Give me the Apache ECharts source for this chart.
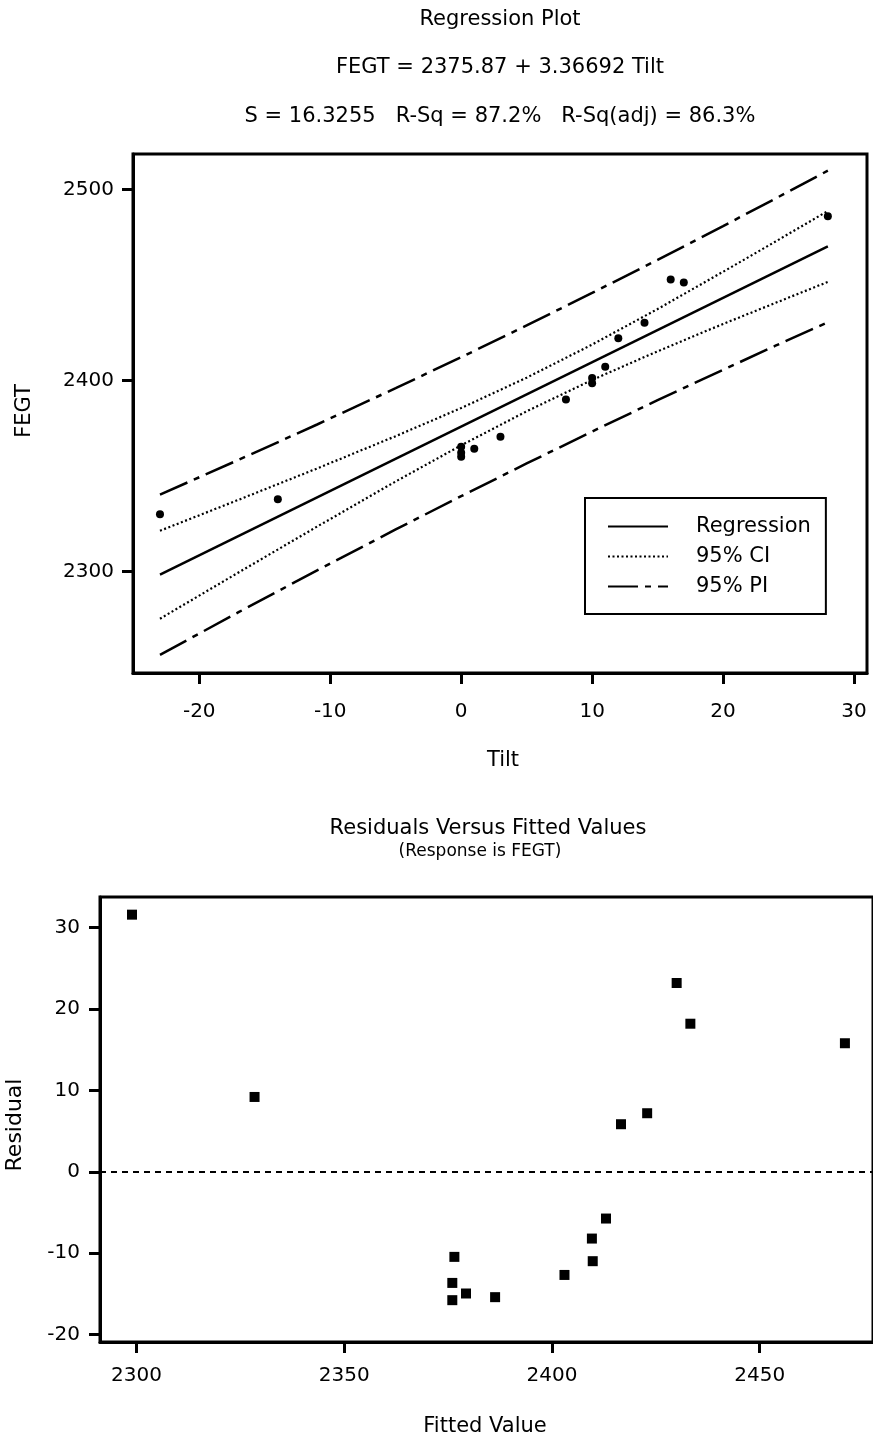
<!DOCTYPE html>
<html>
<head>
<meta charset="utf-8">
<title>Regression Plot</title>
<script src="https://cdn.jsdelivr.net/npm/echarts@6/dist/echarts.min.js"></script>
<style>
  html, body { margin: 0; padding: 0; background: #fff; }
  #chart { width: 873px; height: 1442px; }
</style>
</head>
<body>
<div id="chart"></div>
<script>
// Observations: furnace exit gas temperature against burner tilt
const TILT = [-23, -14, 0, 0, 0, 1, 3, 8, 10, 10, 11, 12, 14, 16, 17, 28];
const FEGT = [2330.0, 2337.9, 2365.4, 2362.2, 2360.1, 2364.3, 2370.6, 2390.1,
              2401.3, 2398.6, 2407.2, 2422.1, 2430.2, 2452.9, 2451.3, 2485.9];

// Fitted line as printed in the header
const INTERCEPT = 2375.87;
const SLOPE = 3.36692;
const FIT_RANGE = [-23, 28];

// Confidence and prediction bands
const BAND_TILT = [-23, -17, -11, -5, 0, 5, 10, 15, 20, 24, 28];
const CI_LOWER = [2275.4, 2299.6, 2323.6, 2347.2, 2366.1, 2383.9, 2400.3, 2415.3, 2429.6, 2440.6, 2451.6];
const CI_UPPER = [2321.4, 2337.6, 2354.0, 2370.9, 2385.6, 2401.5, 2418.8, 2437.4, 2456.9, 2472.7, 2488.7];
const PI_LOWER = [2256.5, 2278.8, 2300.7, 2322.1, 2339.5, 2356.6, 2373.3, 2389.7, 2405.6, 2418.2, 2430.5];
const PI_UPPER = [2340.3, 2358.5, 2377.0, 2396.0, 2412.2, 2428.8, 2445.8, 2463.1, 2480.8, 2495.2, 2509.8];

// Residuals versus fitted values
const FITTED = [2298.9, 2328.4, 2376.5, 2376.0, 2376.0, 2379.3, 2386.3, 2403.0,
                2409.6, 2409.8, 2413.0, 2416.6, 2422.9, 2430.0, 2433.3, 2470.5];
const RESIDUAL = [31.6, 9.2, -10.45, -13.65, -15.77, -14.95, -15.4, -12.67,
                  -8.2, -10.98, -5.74, 5.85, 7.2, 23.2, 18.2, 15.8];

// Tick labels
const TILT_TICKS = [-20, -10, 0, 10, 20, 30];
const FEGT_TICKS = [2300, 2400, 2500];
const FITTED_TICKS = [2300, 2350, 2400, 2450];
const RESIDUAL_TICKS = [-20, -10, 0, 10, 20, 30];

const FONT = 'DejaVu Sans';

const zip = (xs, ys) => xs.map((x, i) => [x, ys[i]]);

function valueAxis(gridIndex, min, max, ticks, labelMargin) {
  return {
    type: 'value',
    gridIndex: gridIndex,
    min: min,
    max: max,
    axisLine: { show: true, onZero: false, lineStyle: { color: '#000', width: 3 } },
    axisTick: { show: true, inside: false, length: 11, customValues: ticks,
                lineStyle: { color: '#000', width: 3 } },
    axisLabel: { show: true, customValues: ticks, margin: labelMargin,
                 formatter: v => String(v),
                 color: '#000', fontFamily: FONT, fontSize: 20 },
    splitLine: { show: false }
  };
}

function text(str, x, y, size, rotation) {
  return {
    type: 'text', x: x, y: y, rotation: rotation || 0,
    style: {
      text: str, fill: '#000', font: size + 'px "' + FONT + '"',
      align: 'center', verticalAlign: 'middle',
      textAlign: 'center', textVerticalAlign: 'middle'
    }
  };
}

const chart = echarts.init(document.getElementById('chart'), null, { renderer: 'canvas' });

chart.setOption({
  backgroundColor: '#fff',
  animation: false,
  grid: [
    { left: 133, top: 154, width: 734, height: 519, show: true,
      borderColor: '#000', borderWidth: 3, backgroundColor: 'transparent' },
    { left: 100, top: 897, width: 776, height: 445, show: true,
      borderColor: '#000', borderWidth: 3, backgroundColor: 'transparent' }
  ],
  xAxis: [
    valueAxis(0, -25.06, 30.99, TILT_TICKS, 29),
    valueAxis(1, 2291.2, 2477.26, FITTED_TICKS, 24)
  ],
  yAxis: [
    valueAxis(0, 2247.0, 2518.5, FEGT_TICKS, 19),
    valueAxis(1, -20.91, 33.77, RESIDUAL_TICKS, 20)
  ],
  legend: {
    left: 585, top: 498,
    orient: 'vertical',
    data: ['Regression', '95% CI', '95% PI'],
    borderColor: '#000', borderWidth: 2,
    padding: [18, 15, 17, 22],
    itemWidth: 60, itemHeight: 14, itemGap: 9,
    selectedMode: false,
    itemStyle: { opacity: 0 },
    textStyle: { color: '#000', fontFamily: FONT, fontSize: 21, padding: [0, 0, 0, 23] }
  },
  graphic: [
    text('Regression Plot', 500, 20, 21),
    text('FEGT = 2375.87 + 3.36692 Tilt', 500, 68, 21),
    text('S = 16.3255   R-Sq = 87.2%   R-Sq(adj) = 86.3%', 500, 117, 21),
    text('FEGT', 25, 411, 21, Math.PI / 2),
    text('Tilt', 503, 761, 21),
    text('Residuals Versus Fitted Values', 488, 829, 21),
    text('(Response is FEGT)', 480, 852, 17),
    text('Residual', 15, 1125, 22, Math.PI / 2),
    text('Fitted Value', 485, 1427, 21)
  ],
  series: [
    {
      name: 'FEGT', type: 'scatter', xAxisIndex: 0, yAxisIndex: 0,
      data: zip(TILT, FEGT), symbol: 'circle', symbolSize: 8,
      itemStyle: { color: '#000', opacity: 1 }, z: 5
    },
    {
      name: 'Regression', type: 'line', xAxisIndex: 0, yAxisIndex: 0,
      data: FIT_RANGE.map(x => [x, INTERCEPT + SLOPE * x]),
      symbol: 'none', lineStyle: { color: '#000', width: 2.5, type: 'solid' },
      itemStyle: { color: '#000' }
    },
    {
      name: '95% CI', type: 'line', xAxisIndex: 0, yAxisIndex: 0,
      data: zip(BAND_TILT, CI_UPPER), symbol: 'none',
      lineStyle: { color: '#000', width: 2.2, type: [2, 2.5] }, itemStyle: { color: '#000' }
    },
    {
      name: '95% CI', type: 'line', xAxisIndex: 0, yAxisIndex: 0,
      data: zip(BAND_TILT, CI_LOWER), symbol: 'none',
      lineStyle: { color: '#000', width: 2.2, type: [2, 2.5] }, itemStyle: { color: '#000' }
    },
    {
      name: '95% PI', type: 'line', xAxisIndex: 0, yAxisIndex: 0,
      data: zip(BAND_TILT, PI_UPPER), symbol: 'none',
      lineStyle: { color: '#000', width: 2.5, type: [30, 7, 6, 7] }, itemStyle: { color: '#000' }
    },
    {
      name: '95% PI', type: 'line', xAxisIndex: 0, yAxisIndex: 0,
      data: zip(BAND_TILT, PI_LOWER), symbol: 'none',
      lineStyle: { color: '#000', width: 2.5, type: [30, 7, 6, 7] }, itemStyle: { color: '#000' }
    },
    {
      name: 'Residual', type: 'scatter', xAxisIndex: 1, yAxisIndex: 1,
      data: zip(FITTED, RESIDUAL), symbol: 'rect', symbolSize: 10,
      itemStyle: { color: '#000', opacity: 1 },
      markLine: {
        silent: true, symbol: 'none', label: { show: false },
        lineStyle: { color: '#000', width: 2, type: [6, 5] },
        data: [{ yAxis: 0 }]
      }
    }
  ]
});
</script>
</body>
</html>
